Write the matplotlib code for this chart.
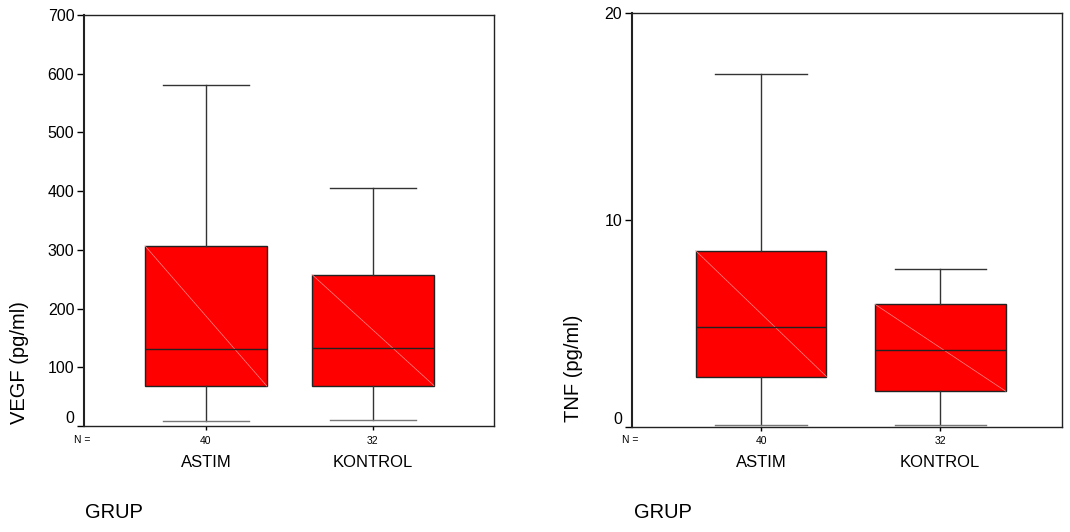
import numpy as np
import matplotlib
matplotlib.use("Agg")
import matplotlib.pyplot as plt

plt.rcParams['font.family'] = ['Liberation Sans', 'DejaVu Sans']

# Gruplar ve N sayilari
gruplar = ['ASTIM', 'KONTROL']
n_sayilari = ['40', '32']

# VEGF (pg/ml) kutu grafik istatistikleri
vegf_alt = [9, 10]
vegf_q1 = [68, 69]
vegf_medyan = [132, 133]
vegf_q3 = [307, 258]
vegf_ust = [581, 405]

# TNF (pg/ml) kutu grafik istatistikleri
tnf_alt = [0.08, 0.08]
tnf_q1 = [2.42, 1.71]
tnf_medyan = [4.84, 3.71]
tnf_q3 = [8.51, 5.92]
tnf_ust = [17.06, 7.61]


def istatistik(alt, q1, med, q3, ust):
    return [dict(whislo=a, q1=b, med=c, q3=d, whishi=e, fliers=[])
            for a, b, c, d, e in zip(alt, q1, med, q3, ust)]


def kutu_ciz(ax, stats, xlim, ylim, yticks, ylabel, ylabel_x, ylabel_y):
    pos = np.arange(1, len(stats) + 1)
    parcalar = ax.bxp(stats, positions=pos, widths=0.73, patch_artist=True, showfliers=False,
                      boxprops=dict(facecolor='#ff0000', edgecolor='#222222', linewidth=1.0),
                      medianprops=dict(color='#222222', linewidth=1.0),
                      whiskerprops=dict(color='#333333', linewidth=1.0),
                      capprops=dict(color='#333333', linewidth=1.0), capwidths=0.51)
    # alt bigiz cizgileri referansta gri gorunuyor
    for cap in parcalar['caps'][0::2]:
        cap.set_color('#777777')
    # kutulardaki ince kosegen cizgi
    for p, s in zip(pos, stats):
        ax.plot([p - 0.365, p + 0.365], [s['q3'], s['q1']], color='#ff8a8a', linewidth=0.5)
    ax.set_xlim(*xlim)
    ax.set_ylim(*ylim)
    ax.set_yticks(yticks)
    ax.set_yticklabels([str(t) for t in yticks], fontsize=11.5)
    ax.set_xticks(pos)
    ax.set_xticklabels(n_sayilari, fontsize=7.5)
    ax.tick_params(axis='y', direction='out', length=5, width=1, pad=2)
    ax.tick_params(axis='x', direction='out', length=3, width=1, pad=4)
    # SPSS tarzi: "0" etiketi eksenin biraz ustunde
    ax.get_yticklabels()[0].set_verticalalignment('bottom')
    for sp in ax.spines.values():
        sp.set_linewidth(1.0)
        sp.set_color('#222222')
    ax.spines['left'].set_linewidth(1.5)
    tr = ax.get_xaxis_transform()
    ax.text(xlim[0] - 0.01, -0.033, 'N =', transform=tr, fontsize=7.5, ha='center', va='center')
    for p, g in zip(pos, gruplar):
        ax.text(p, -0.07, g, transform=tr, fontsize=12, ha='center', va='top')
    fig.text(ylabel_x, ylabel_y, ylabel, rotation=90,
             fontsize=14.5, ha='center', va='center')


fig = plt.figure(figsize=(10.7, 5.32), dpi=100)
ax1 = fig.add_axes([0.0785, 0.1992, 0.3832, 0.7726])
ax2 = fig.add_axes([0.5907, 0.1983, 0.4019, 0.7767])

kutu_ciz(ax1, istatistik(vegf_alt, vegf_q1, vegf_medyan, vegf_q3, vegf_ust),
         (0.27, 2.725), (0, 700), [0, 100, 200, 300, 400, 500, 600, 700],
         'VEGF (pg/ml)', 20 / 1070, 1 - 363 / 532)
kutu_ciz(ax2, istatistik(tnf_alt, tnf_q1, tnf_medyan, tnf_q3, tnf_ust),
         (0.28, 2.68), (0, 20), [0, 10, 20],
         'TNF (pg/ml)', 573.5 / 1070, 1 - 368 / 532)

fig.text(114 / 1070, 1 - 513 / 532, 'GRUP', fontsize=14.5, ha='center', va='center')
fig.text(663 / 1070, 1 - 513 / 532, 'GRUP', fontsize=14.5, ha='center', va='center')

fig.savefig('out.png', dpi=100)
